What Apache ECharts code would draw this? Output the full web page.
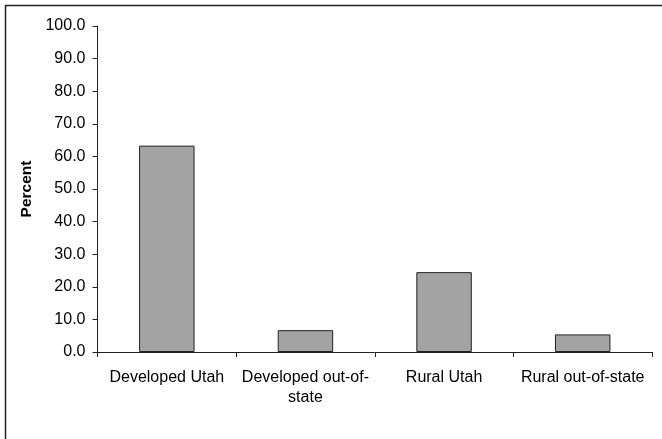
<!DOCTYPE html>
<html>
<head>
<meta charset="utf-8">
<script src="https://cdn.jsdelivr.net/npm/echarts@6/dist/echarts.min.js"></script>
<style>
html,body{margin:0;padding:0;background:#fff;}
#c{width:662px;height:439px;}
</style>
</head>
<body>
<div id="c"></div>
<script>
var categories = ['Developed Utah', 'Developed out-of-\nstate', 'Rural Utah', 'Rural out-of-state'];
var percentValues = [63.3, 6.7, 24.5, 5.4];
var yTickLabels = ['0.0','10.0','20.0','30.0','40.0','50.0','60.0','70.0','80.0','90.0','100.0'];

var chart = echarts.init(document.getElementById('c'), null, {renderer: 'canvas'});
var font = '"Liberation Sans", Arial, sans-serif';
chart.setOption({
  animation: false,
  backgroundColor: '#fff',
  graphic: [{
    type: 'rect',
    shape: {x: 5.5, y: 5.5, width: 700, height: 500},
    style: {fill: 'none', stroke: '#222', lineWidth: 1.5},
    silent: true
  }],
  grid: {left: 97.5, right: 10, top: 26, bottom: 87, containLabel: false},
  xAxis: {
    type: 'category',
    data: categories,
    axisLine: {lineStyle: {color: '#222', width: 1}},
    axisTick: {show: true, alignWithLabel: false, length: 5, lineStyle: {color: '#222'}},
    axisLabel: {color: '#000', fontFamily: font, fontSize: 16, margin: 16, lineHeight: 20, interval: 0}
  },
  yAxis: {
    type: 'value',
    min: 0, max: 100, interval: 10,
    name: 'Percent',
    nameLocation: 'middle',
    nameGap: 61,
    nameRotate: 90,
    nameTextStyle: {color: '#000', fontFamily: font, fontSize: 15.5, fontWeight: 'bold'},
    axisLine: {show: true, lineStyle: {color: '#222', width: 1}},
    axisTick: {show: true, inside: false, length: 5, lineStyle: {color: '#222'}},
    splitLine: {show: false},
    axisLabel: {
      color: '#000', fontFamily: font, fontSize: 16, margin: 12,
      formatter: function (v) { return yTickLabels[Math.round(v / 10)]; }
    }
  },
  series: [{
    type: 'bar',
    data: percentValues,
    barCategoryGap: '60%',
    itemStyle: {color: '#a3a3a3', borderColor: '#222', borderWidth: 1}
  }]
});
</script>
</body>
</html>
